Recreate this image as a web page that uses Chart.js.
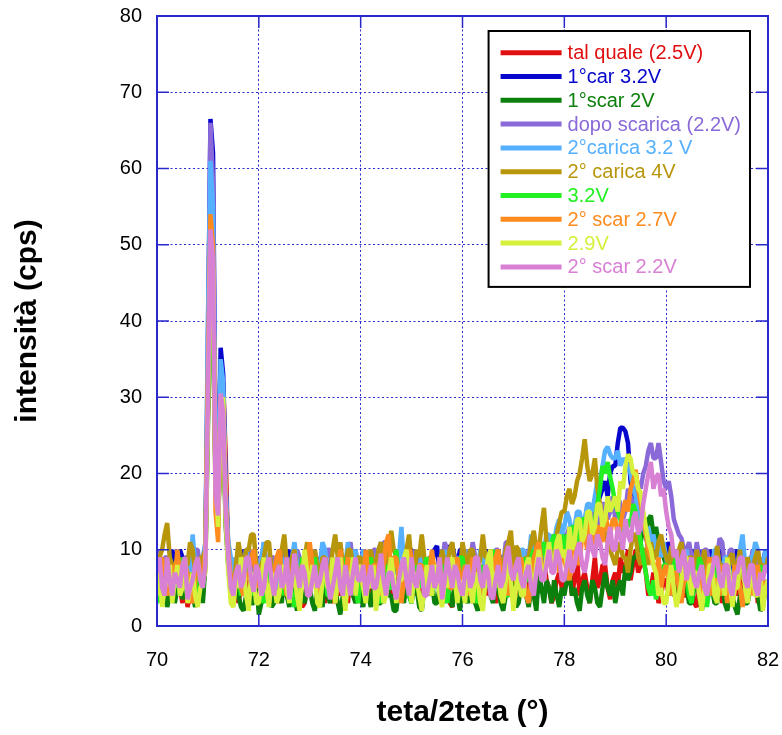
<!DOCTYPE html>
<html>
<head>
<meta charset="utf-8">
<script src="https://cdn.jsdelivr.net/npm/chart.js@4.4.1/dist/chart.umd.min.js"></script>
<style>
  html, body { margin: 0; padding: 0; background: #fff; }
</style>
</head>
<body>
<canvas id="xrdChart" width="782" height="735"></canvas>
<script>
// 2theta positions, one row per degree
const angle = [
  70.00, 70.05, 70.10, 70.15, 70.20, 70.25, 70.30, 70.35, 70.40, 70.45, 70.50, 70.55, 70.60, 70.65, 70.70, 70.75, 70.80, 70.85, 70.90, 70.95,
  71.00, 71.05, 71.10, 71.15, 71.20, 71.25, 71.30, 71.35, 71.40, 71.45, 71.50, 71.55, 71.60, 71.65, 71.70, 71.75, 71.80, 71.85, 71.90, 71.95,
  72.00, 72.05, 72.10, 72.15, 72.20, 72.25, 72.30, 72.35, 72.40, 72.45, 72.50, 72.55, 72.60, 72.65, 72.70, 72.75, 72.80, 72.85, 72.90, 72.95,
  73.00, 73.05, 73.10, 73.15, 73.20, 73.25, 73.30, 73.35, 73.40, 73.45, 73.50, 73.55, 73.60, 73.65, 73.70, 73.75, 73.80, 73.85, 73.90, 73.95,
  74.00, 74.05, 74.10, 74.15, 74.20, 74.25, 74.30, 74.35, 74.40, 74.45, 74.50, 74.55, 74.60, 74.65, 74.70, 74.75, 74.80, 74.85, 74.90, 74.95,
  75.00, 75.05, 75.10, 75.15, 75.20, 75.25, 75.30, 75.35, 75.40, 75.45, 75.50, 75.55, 75.60, 75.65, 75.70, 75.75, 75.80, 75.85, 75.90, 75.95,
  76.00, 76.05, 76.10, 76.15, 76.20, 76.25, 76.30, 76.35, 76.40, 76.45, 76.50, 76.55, 76.60, 76.65, 76.70, 76.75, 76.80, 76.85, 76.90, 76.95,
  77.00, 77.05, 77.10, 77.15, 77.20, 77.25, 77.30, 77.35, 77.40, 77.45, 77.50, 77.55, 77.60, 77.65, 77.70, 77.75, 77.80, 77.85, 77.90, 77.95,
  78.00, 78.05, 78.10, 78.15, 78.20, 78.25, 78.30, 78.35, 78.40, 78.45, 78.50, 78.55, 78.60, 78.65, 78.70, 78.75, 78.80, 78.85, 78.90, 78.95,
  79.00, 79.05, 79.10, 79.15, 79.20, 79.25, 79.30, 79.35, 79.40, 79.45, 79.50, 79.55, 79.60, 79.65, 79.70, 79.75, 79.80, 79.85, 79.90, 79.95,
  80.00, 80.05, 80.10, 80.15, 80.20, 80.25, 80.30, 80.35, 80.40, 80.45, 80.50, 80.55, 80.60, 80.65, 80.70, 80.75, 80.80, 80.85, 80.90, 80.95,
  81.00, 81.05, 81.10, 81.15, 81.20, 81.25, 81.30, 81.35, 81.40, 81.45, 81.50, 81.55, 81.60, 81.65, 81.70, 81.75, 81.80, 81.85, 81.90, 81.95,
  82.00
];

const talQuale = [
  5, 7, 3, 5, 4, 8, 7, 4, 6, 5, 3, 6, 2.5, 4, 5, 7, 6, 4, 4, 9,
  28, 45, 40, 20, 14, 26, 32, 22, 9, 5, 4, 6, 3, 5, 6, 4, 8, 6, 5, 3,
  7, 3, 4, 8, 6, 4, 9, 5, 3, 6, 5, 8, 7, 3, 4, 7, 6, 2.5, 3, 6,
  5, 7, 8, 4, 6, 5, 3, 7, 5, 3, 7, 5, 4, 8, 6, 3, 8, 4, 5, 7,
  3, 5, 6, 4, 7, 5, 4, 8, 6, 3, 9, 6, 5, 3, 4, 7, 7, 4, 5, 8,
  6, 8, 4, 5, 3, 6, 7, 4, 5, 7, 8, 5, 4, 6, 6, 3, 2.5, 5, 5, 7,
  7, 4, 5, 7, 3, 5, 6, 4, 8, 6, 4, 7, 6, 3, 5, 8, 7, 5, 4, 6,
  6, 4, 8, 6, 5, 7, 3, 5, 7, 4, 6, 8, 9, 6, 5, 3, 4, 6, 7, 5,
  5, 7, 8, 4, 6, 9, 4, 6, 7, 5, 3, 6, 9, 5, 6, 8, 8, 5, 3.5, 6,
  7, 5, 9, 7, 8, 10, 6, 8, 10, 7, 8, 9, 7, 4, 5, 7, 6, 3, 4, 6,
  6, 4, 8, 6, 5, 7, 7, 4, 4, 6, 6, 3, 2.5, 5, 5, 8, 7, 5, 4, 6,
  6, 8, 3, 5, 5, 3, 7, 5, 4, 7, 6, 4, 8, 5, 5, 7, 3, 5, 6, 4,
  5
];

const car1 = [
  9, 7, 6, 9, 8, 6, 10, 8, 7, 10, 9, 7, 6, 9, 10.5, 8, 8, 6, 7, 10,
  35, 66.5, 62, 24, 15, 36.5, 33, 18, 10, 7, 6, 9, 8, 6, 10, 7, 6, 9, 9, 6,
  7, 9, 10, 6, 5, 8, 8, 6, 9, 10, 6, 8, 10, 7, 7, 5, 5, 9, 8, 6,
  9, 7, 6, 9, 8, 6, 10, 7, 7, 9, 5, 8, 9, 6, 8, 10, 6, 8, 10, 7,
  7, 10, 9, 6, 6, 8, 8, 6, 5, 9, 10, 7, 7, 9, 9, 6, 6, 8, 8, 10,
  10, 8, 7, 9, 9, 6, 6, 8, 8, 10, 10.5, 7, 7, 9, 9, 10.5, 10.5, 9, 8, 10,
  10, 8, 7, 9, 9, 7, 8, 6, 6, 9, 10, 8, 8, 6, 7, 9, 9, 7, 10, 8,
  7, 10, 9, 7, 8, 6, 6, 9, 10, 8, 9, 7, 7, 10, 10, 8, 8, 10, 9, 11,
  10, 12, 9, 11, 11, 13, 12, 14, 13, 12, 15, 14, 14, 16, 17, 18, 19, 17, 20, 21,
  21, 24, 26, 26, 25.5, 24, 19, 17, 15, 14, 13, 12, 12, 10, 11, 9, 10, 11, 9, 10,
  9, 11, 10, 8, 8, 10, 9, 7, 7, 9, 10, 8, 8, 10, 6, 8, 9, 10, 7, 9,
  8, 10, 6, 8, 9, 7, 7, 9, 10, 8, 8, 6, 6, 9, 9, 10, 7, 9, 8, 10,
  7
];

const scar1 = [
  4, 6, 3, 5, 2.5, 4, 6, 3, 5, 7, 3.5, 5, 7, 4, 4, 2.5, 5, 6, 3, 8,
  26, 48, 42, 19, 13, 27, 26, 13, 8, 5, 3, 5, 4, 2.5, 2, 4, 5, 3, 3, 6,
  1.5, 3, 4, 6, 6, 2.5, 3, 5, 5, 3, 7, 4, 2.5, 5, 4, 2, 6, 4, 3, 5,
  5, 3, 2, 5, 4, 2.5, 6, 4, 3, 6, 5, 3, 1.5, 4, 4, 6, 7, 4, 3, 5,
  4, 2.5, 6, 4, 2.5, 5, 5, 3, 3, 6, 7, 4, 4, 2, 2, 5, 5, 3, 6, 4,
  3, 6, 5, 2.5, 2, 5, 4, 6, 6, 3, 3, 5, 5, 3, 7, 4, 2.5, 5, 4, 2,
  6, 4, 3, 5, 5, 3, 2, 4, 4, 6, 7, 4, 3, 6, 5, 3, 2, 4, 4, 6,
  5, 2.5, 3, 5, 6, 4, 2.5, 5, 4, 2, 7, 5, 3, 6, 5, 3, 6, 4, 2.5, 5,
  4, 6, 7, 4, 5, 3, 2, 5, 6, 4, 3, 6, 5, 3, 2.5, 5, 7, 5, 4, 6,
  3, 5, 6, 4, 8, 6, 7, 9, 9, 10, 11, 13, 12, 14, 14.5, 12, 13, 11, 10, 9,
  8, 7, 6, 4, 4, 6, 7, 5, 5, 3, 3, 5, 6, 4, 2, 4, 4, 6, 5, 3,
  3, 5, 6, 3, 2, 4, 4, 2.5, 1.5, 4, 5, 3, 3, 5, 6, 4, 4, 2, 2.5, 5,
  4
];

const dopoScarica = [
  10, 8, 7, 9, 9, 6, 5, 8, 8, 6, 6, 9, 9, 7, 7, 10, 10, 7, 8, 9,
  38, 66, 58, 22, 14, 33, 30, 17, 10, 8, 6, 8, 9, 7, 7, 10, 10, 7, 6, 9,
  8, 6, 11, 8, 6, 9, 9, 6, 7, 9, 10, 7, 5, 8, 8, 10, 9, 7, 6, 8,
  7, 10, 9, 6, 5, 8, 8, 10, 10, 7, 6, 9, 9, 6, 7, 10, 11, 8, 8, 6,
  6, 8, 9, 7, 7, 10, 10, 8, 8, 11, 11, 7, 6, 9, 9, 6, 7, 9, 5, 8,
  8, 10, 6, 8, 10, 7, 7, 9, 9, 6, 5, 8, 8, 11, 10, 7, 6, 9, 9, 7,
  7, 9, 10, 8, 11, 9, 8, 6, 6, 9, 9, 7, 7, 10, 10, 8, 8, 11, 11, 9,
  8, 10, 6, 9, 9, 7, 10, 8, 7, 10, 11, 9, 8, 11, 10, 12, 9, 11, 12, 10,
  10, 12, 13, 11, 11, 13, 12, 14, 14, 12, 13, 15, 15, 13, 14, 16, 16, 14, 15, 17,
  14, 17, 16, 14, 15, 18, 17, 16, 16, 19, 18, 20, 21, 23, 24, 22, 22, 24, 21.5, 19,
  18, 19, 17, 14, 13, 12, 11.5, 10, 10, 11, 9, 8, 11, 9, 8, 10, 10, 8, 7, 9,
  9, 11.5, 11, 8, 8, 10, 10, 7, 7, 9, 9, 7, 6, 8, 10, 8, 8, 9, 7, 9,
  9
];

const carica2 = [
  6, 9, 8, 6, 5, 8, 7, 5, 9, 7, 6, 8, 8, 6, 12, 8, 7, 9, 9, 11,
  40, 61, 55, 22, 16, 35, 32, 18, 11, 9, 6, 9, 8, 6, 7, 10, 8, 6, 5, 8,
  7, 9, 11, 7, 6, 8, 8, 6, 5, 7, 9, 6, 7, 9, 11, 8, 6, 8, 8, 10,
  9, 7, 6, 8, 8, 11, 10, 7, 7, 9, 5, 8, 9, 6, 8, 11, 6, 9, 10, 7,
  7, 10, 9, 6, 5, 8, 8, 10, 11, 7, 6, 9, 8, 7, 7, 9, 13, 8, 9, 7,
  6, 9, 8, 6, 10, 8, 7, 9, 9, 6, 5, 8, 8, 10, 6, 8, 9, 7, 7, 9,
  8, 10, 6, 8, 9, 7, 7, 10, 10, 7, 8, 6, 6, 9, 9, 7, 8, 10, 7, 9,
  9, 7, 7, 10, 10, 8, 9, 12, 9, 10, 11, 9, 10, 12, 12, 10, 11, 13, 14, 12,
  13, 15, 14, 12, 13, 15, 15, 13, 14, 16, 16, 15, 17, 19, 19, 21, 23, 23.5, 22.5, 22,
  22, 23, 21, 22, 21.5, 21, 20, 18, 17, 15, 14, 13, 12, 13, 11, 12, 10, 11, 9, 11,
  9, 7, 6, 8, 8, 10, 7, 9, 10, 7, 6, 8, 8, 6, 9, 7, 7, 9, 8, 10,
  10, 8, 7, 9, 9, 7, 6, 8, 8, 10, 12, 8, 7, 9, 9, 11, 10, 8, 8, 10,
  9
];

const carica2_4V = [
  7, 9, 10, 12, 13.5, 9, 8, 6, 9, 7, 5, 8, 8, 11, 10, 7, 6, 9, 9, 10,
  30, 50, 45, 20, 13, 28, 27, 14, 9, 6, 5, 8, 11, 9, 7, 10, 10, 12, 12, 8,
  6, 8, 9, 11, 11, 7, 5, 8, 8, 10, 12, 8, 7, 9, 10, 7, 6, 8, 9, 11,
  8, 6, 10, 8, 6, 9, 9, 7, 7, 10, 12, 9, 11, 8, 8, 10, 10, 8, 7, 9,
  9, 7, 6, 9, 10, 8, 8, 10, 11, 8, 7, 9, 12.5, 10, 9, 7, 6, 8, 10, 12,
  8, 6, 10, 9, 12, 9, 7, 9, 9, 7, 6, 8, 10, 8, 8, 10, 11, 8, 9, 7,
  11, 9, 8, 10, 10, 7, 7, 9, 12, 9, 9, 7, 6, 9, 10, 8, 8, 10, 11, 12.5,
  8, 10.5, 10, 8, 7, 9, 9, 11, 12.5, 10, 10, 13, 15.5, 11, 9, 10, 11, 12, 13.5, 15,
  15, 17, 18, 16, 17, 19, 20, 22, 24.5, 21, 19, 20, 22, 18, 16, 14, 12, 11, 10, 9,
  8, 10, 11, 9, 9, 7, 10, 12, 12, 9, 8, 10, 10, 8, 11, 9, 9, 11, 12, 10,
  9, 8, 10.5, 8, 8, 10, 11, 8, 7, 9, 9, 7, 10, 8, 8, 10, 7, 8, 9, 7,
  10.5, 8, 8, 6, 7, 9, 9.5, 7, 8, 10, 6, 8, 9, 7, 7, 9, 10, 8, 8, 7,
  9
];

const v32 = [
  3, 5, 6, 8, 8, 5, 5, 7, 7, 4, 9, 6, 4, 7, 6, 3, 8, 6, 5, 9,
  30, 42, 40, 18, 13, 26, 28, 15, 8, 4, 3, 6, 7, 4, 5, 8, 9, 6, 4, 7,
  6, 4, 3, 7, 8, 5, 5, 8, 9, 6, 4, 7, 7, 4, 2.5, 5, 6, 9, 8, 5,
  5, 7, 9, 5, 3, 6, 7, 4, 4, 7, 8, 5, 6, 9, 3, 6, 9, 6, 5, 3,
  7, 5, 4, 7, 9, 6, 6, 4, 3, 6, 8, 5, 5, 8, 10, 6, 4, 7, 7, 4,
  3, 6, 8, 5, 6, 8, 9, 5, 4, 7, 7, 4, 5, 8, 3, 6, 8, 5, 6, 9,
  9, 6, 4, 7, 7, 4, 3, 6, 8, 5, 6, 9, 10, 7, 5, 8, 7, 4, 4, 7,
  8, 6, 5, 8, 9, 6, 6, 9, 10, 8, 7, 10, 11, 8, 9, 11, 12, 9, 10, 12,
  9, 12, 11, 13, 13, 11, 12, 14, 14, 12, 10, 13, 14, 16, 18, 21, 20, 21.5, 19.5, 18,
  16, 15, 14, 12, 12, 14, 13, 16, 15, 13, 11, 9, 7, 5, 4, 6, 3.5, 5, 6, 8,
  8, 6, 5, 8, 9, 6, 4, 7, 7, 4, 3, 6, 6, 9, 8, 5, 2.5, 5, 5, 8,
  7, 5, 4, 7, 8, 5, 3, 6, 6, 8, 9, 6, 4, 7, 7, 4, 5, 8, 3, 5,
  6
];

const scar2_27 = [
  6, 8, 9, 5, 4, 7, 8, 6, 10, 7, 5, 8, 7, 4, 3, 6, 9, 7, 6, 10,
  33, 54, 50, 15, 11, 30, 29, 16, 10, 6, 4, 7, 8, 5, 4, 7, 6, 9, 10, 6,
  5, 7, 8, 5, 3, 6, 7, 9, 10, 7, 6, 4, 4, 7, 9, 6, 5, 8, 8, 6,
  11, 8, 6, 4, 4, 7, 9, 6, 7, 5, 3, 6, 10, 7, 6, 9, 8, 5, 5, 8,
  7, 5, 10, 7, 5, 8, 8, 5, 4, 8, 11, 12, 6, 9, 9, 6, 3, 6, 7, 10,
  9, 6, 5, 8, 8, 6, 4, 7, 10, 7, 6, 9, 3, 6, 8, 5, 5, 7, 9, 6,
  6, 8, 4, 7, 9, 6, 7, 4, 3, 6, 8, 10, 5, 9, 10, 7, 6, 9, 4, 7,
  8, 6, 5, 9, 7, 4, 3, 6, 9, 10, 11, 8, 6, 9, 10, 7, 8, 11, 7, 10,
  9, 7, 6, 10, 11, 9, 8, 12, 12, 10, 14, 12, 10, 13, 13, 11, 15, 13, 12, 14,
  14, 12, 13, 15, 16.5, 15, 18, 19, 20.5, 18, 16, 14, 12, 10, 9, 8, 7, 9, 5, 7,
  8, 6, 4, 7, 7, 5, 3, 6, 6, 8, 9, 6, 5, 7, 3, 5, 7, 9, 4, 6,
  6, 4, 8, 6, 3, 6, 5, 8, 7, 5, 2.5, 5, 6, 8, 4, 7, 8, 5, 3, 6,
  5
];

const v29 = [
  4, 7, 2.5, 5, 6, 8, 3, 6, 8, 4, 5, 9, 3, 5, 7, 4, 2.5, 5, 6, 7,
  28, 50, 47, 19, 13, 29, 30, 14, 7, 3, 2.5, 6, 5, 9, 8, 4, 2, 7, 6, 3,
  3, 6, 9, 5, 2.5, 7, 6, 3, 4, 7, 8, 5, 3, 6, 7, 4, 2, 6, 10, 7,
  4, 8, 6, 3, 2.5, 6, 8, 5, 5, 9, 3, 6, 9, 5, 2, 7, 6, 9, 4, 7,
  8, 5, 3, 6, 5, 8, 2, 5, 7, 3, 4, 7, 9, 6, 3, 6, 6, 9, 10, 7,
  3, 7, 6, 4, 2, 5, 8, 5, 4, 8, 7, 4, 2.5, 6, 5, 8, 9, 6, 3, 6,
  5, 3, 8, 5, 3, 7, 6, 3, 2, 6, 9, 10, 4, 7, 7, 4, 3, 6, 10, 6,
  2, 5, 7, 4, 4, 8, 9, 6, 5, 8, 10, 7, 6, 9, 11, 8, 8, 11, 12, 9,
  10, 8, 13, 10, 11, 14, 14, 11, 12, 15, 15, 12, 13, 16, 16, 13, 14, 17, 15, 16,
  17, 15, 19, 18, 21, 22.5, 22, 20, 20, 18, 17.5, 15, 13, 11, 10, 8, 7, 4, 5, 3,
  3, 6, 8, 5, 2.5, 4, 6, 9, 9, 6, 4, 7, 7, 4, 2, 5, 5, 8, 8, 4,
  3, 7, 6, 4, 9, 6, 2.5, 5, 5, 9, 8, 5, 3, 6, 7, 4, 4, 7, 2, 5,
  6
];

const scar2_22 = [
  7, 9, 5, 4, 9, 6, 4, 7, 6, 5, 8, 9, 3.5, 5, 6, 8, 9, 6, 5, 8,
  30, 52, 48, 17, 14.5, 30.5, 28, 15, 9, 5, 4, 7, 8, 5, 6, 9, 9, 6, 4.5, 8,
  7, 4, 5, 8, 9, 6, 4, 7, 8, 5, 6, 9, 3.5, 6, 9.5, 7, 5, 8, 7, 4,
  4, 6, 8, 5, 6, 8, 9, 6, 3.5, 5, 7, 9, 5, 4, 8, 6, 4, 7, 9, 6,
  6, 8, 4, 6, 8, 5, 5, 7, 9.5, 6, 4, 7, 7, 5, 3.5, 6, 8, 9, 6, 4,
  9, 6, 5, 8, 7, 4, 4, 6, 8, 5, 6, 9, 3.5, 6, 9, 7, 5, 8, 7, 5,
  4, 7, 8, 5, 6, 9, 9, 6, 5, 8, 7, 4, 3.5, 6, 8, 5, 6, 9, 10.5, 7,
  6, 8, 9, 6, 5, 7, 8, 5, 4, 7, 9, 6, 6, 8, 10, 7, 7, 10, 9, 6,
  6, 8, 10, 7, 8, 10, 11, 8, 7, 9, 12, 10, 9, 12, 11, 9, 8, 11, 13, 10,
  10, 13, 12, 10, 14, 12, 11, 14, 15, 12, 13, 16, 18, 20, 21.5, 18, 19.5, 20, 17, 18,
  15, 13, 12, 9, 10, 7, 8.5, 10, 6, 8, 9, 6, 5, 7, 8, 5, 4, 6, 7, 9,
  9, 6, 5, 8, 8, 5, 4, 7, 7, 9, 9, 6, 5, 8, 8, 5, 4, 7, 6, 8,
  7
];

const seriesNames = [
  'tal quale (2.5V)', '1°car 3.2V', '1°scar 2V', 'dopo scarica (2.2V)', '2°carica 3.2 V',
  '2° carica 4V', '3.2V', '2° scar 2.7V', '2.9V', '2° scar 2.2V'
];
const seriesValues = [talQuale, car1, scar1, dopoScarica, carica2, carica2_4V, v32, scar2_27, v29, scar2_22];
const seriesColors = [
  '#e01010', '#0606cc', '#0c800c', '#8a6ad8', '#55b0ff',
  '#b8960c', '#22f022', '#ff8a1e', '#d6f03c', '#d880d4'
];

const FONT = "'Liberation Sans', Arial, sans-serif";
const AXIS_BLUE = '#2828cc';

// frame around the plot with inward tick marks
const framePlugin = {
  id: 'frame',
  afterDatasetsDraw(chart) {
    const { ctx, chartArea: a, scales } = chart;
    ctx.save();
    ctx.strokeStyle = AXIS_BLUE;
    ctx.lineWidth = 2;
    ctx.strokeRect(a.left, a.top, a.right - a.left, a.bottom - a.top);
    ctx.lineWidth = 1.5;
    ctx.beginPath();
    scales.x.ticks.forEach(t => {
      const px = scales.x.getPixelForValue(t.value);
      ctx.moveTo(px, a.bottom); ctx.lineTo(px, a.bottom - 12);
      ctx.moveTo(px, a.top); ctx.lineTo(px, a.top + 12);
    });
    scales.y.ticks.forEach(t => {
      const py = scales.y.getPixelForValue(t.value);
      ctx.moveTo(a.left, py); ctx.lineTo(a.left + 12, py);
      ctx.moveTo(a.right, py); ctx.lineTo(a.right - 12, py);
    });
    ctx.stroke();
    ctx.restore();
  }
};

// boxed legend inside the plot, text in series colour
const boxLegend = {
  id: 'boxLegend',
  afterDraw(chart) {
    const { ctx, chartArea: a } = chart;
    const sets = chart.data.datasets;
    ctx.save();
    ctx.font = '20px ' + FONT;
    let maxW = 0;
    sets.forEach(ds => { maxW = Math.max(maxW, ctx.measureText(ds.label).width); });
    const rowH = 23.8;
    const right = a.right - 18;
    const top = a.top + 15;
    const left = right - 9 - maxW - 79;
    const bottom = top + 21.7 + rowH * (sets.length - 1) + 20;
    ctx.fillStyle = '#fff';
    ctx.fillRect(left, top, right - left, bottom - top);
    ctx.strokeStyle = '#000';
    ctx.lineWidth = 2;
    ctx.strokeRect(left, top, right - left, bottom - top);
    ctx.textBaseline = 'middle';
    ctx.textAlign = 'left';
    sets.forEach((ds, i) => {
      const yy = top + 21.7 + i * rowH;
      ctx.strokeStyle = ds.borderColor;
      ctx.lineWidth = 5;
      ctx.beginPath();
      ctx.moveTo(left + 12, yy);
      ctx.lineTo(left + 73, yy);
      ctx.stroke();
      ctx.fillStyle = ds.borderColor;
      ctx.fillText(ds.label, left + 79, yy + 1);
    });
    ctx.restore();
  }
};

new Chart(document.getElementById('xrdChart'), {
  type: 'line',
  data: {
    datasets: seriesNames.map((name, i) => ({
      label: name,
      data: angle.map((x, k) => ({ x: x, y: seriesValues[i][k] })),
      borderColor: seriesColors[i],
      backgroundColor: seriesColors[i],
      borderWidth: 4.5,
      borderJoinStyle: 'bevel',
      pointRadius: 0,
      tension: 0,
      fill: false,
      order: seriesNames.length - 1 - i
    }))
  },
  options: {
    responsive: false,
    animation: false,
    layout: { padding: { top: 16, right: 14, left: 0, bottom: 0 } },
    plugins: {
      legend: { display: false },
      tooltip: { enabled: false }
    },
    scales: {
      x: {
        type: 'linear',
        min: 70,
        max: 82,
        afterFit: s => { s.height = 109; s.paddingLeft = 0; s.paddingRight = 0; },
        ticks: { stepSize: 2, color: '#000', padding: 22, font: { family: FONT, size: 20 } },
        grid: { color: AXIS_BLUE, lineWidth: 1, drawTicks: false },
        border: { display: false, dash: [2, 2.5] },
        title: {
          display: true,
          text: 'teta/2teta (°)',
          color: '#000',
          font: { family: FONT, size: 30, weight: 'bold' },
          padding: { top: 0, bottom: 4 }
        }
      },
      y: {
        min: 0,
        max: 80,
        afterFit: s => { s.width = 157; s.paddingTop = 0; s.paddingBottom = 0; },
        ticks: { stepSize: 10, color: '#000', padding: 15, font: { family: FONT, size: 20 } },
        grid: { color: AXIS_BLUE, lineWidth: 1, drawTicks: false },
        border: { display: false, dash: [2, 2.5] },
        title: {
          display: true,
          text: 'intensità (cps)',
          color: '#000',
          font: { family: FONT, size: 30, weight: 'bold' },
          padding: { top: 10, bottom: 0 }
        }
      }
    }
  },
  plugins: [framePlugin, boxLegend]
});
</script>
</body>
</html>
